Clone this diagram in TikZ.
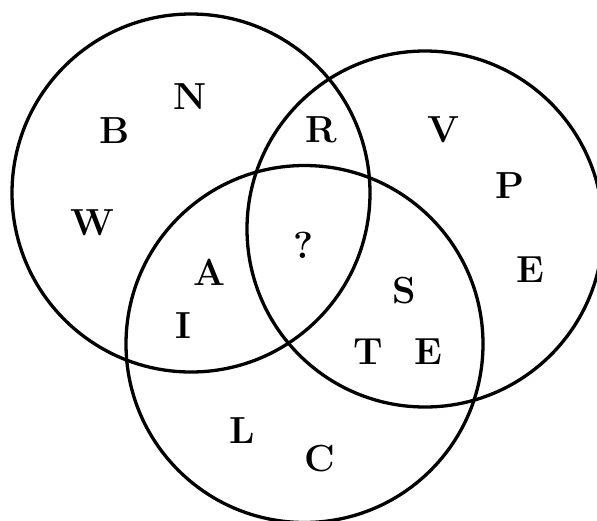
\documentclass[tikz,border=0pt]{standalone}
\begin{document}
\begin{tikzpicture}[x=1pt,y=-1pt,
  ring/.style={draw=black,line width=3.3pt},
  lett/.style={font=\fontsize{29}{29}\selectfont\bfseries,inner sep=0pt,anchor=center,scale=1.3,transform shape}]
\useasboundingbox (0,0) rectangle (597,520);
\clip (0,0) rectangle (597,520);
\draw[ring] (191,193) circle (179);
\draw[ring] (425,229) circle (178);
\draw[ring] (304.5,344) circle (178.5);
\node[lett] (n) at (190,97) {N};
\node[lett] (b) at (115,131) {B};
\node[lett] (w) at (92,223) {W};
\node[lett] (r) at (321,130) {R};
\node[lett] (v) at (444,130) {V};
\node[lett] (p) at (510,186) {P};
\node[lett] (e1) at (530,270) {E};
\node[lett] (q) at (304,245) {?};
\node[lett] (a) at (210,272) {A};
\node[lett] (i) at (183,326) {I};
\node[lett] (s) at (404,291) {S};
\node[lett] (t) at (368,352) {T};
\node[lett] (e2) at (428,352) {E};
\node[lett] (l) at (242,431) {L};
\node[lett] (c) at (320,459) {C};
\end{tikzpicture}
\end{document}
